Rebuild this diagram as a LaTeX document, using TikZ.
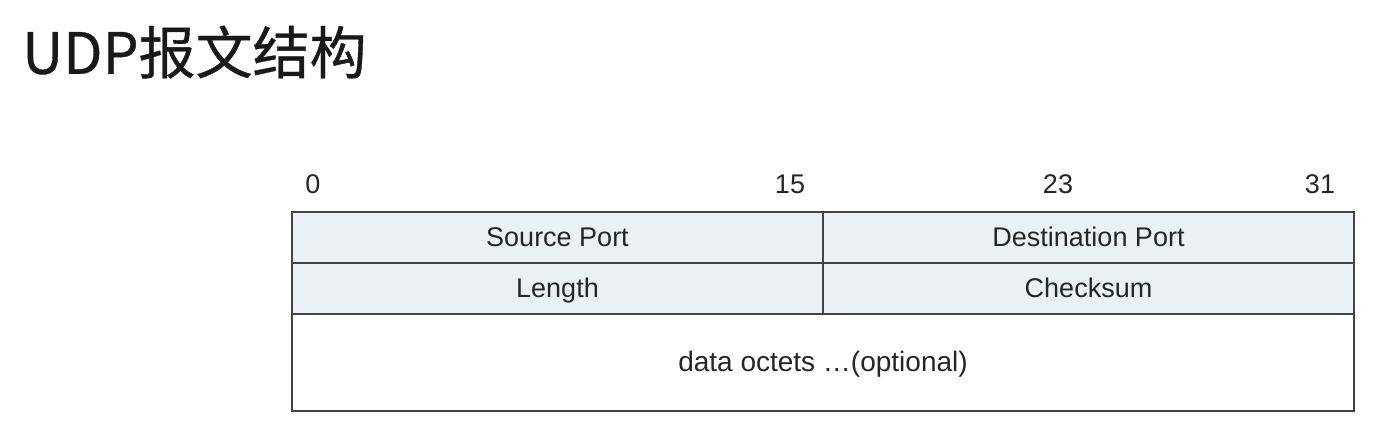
\documentclass[tikz,border=0pt]{standalone}
\usepackage{fontspec}
\setmainfont{Liberation Sans}
\newfontfamily\cjkfont[FakeBold=0.6]{Noto Sans CJK SC}
\usepackage{tikz}
\usetikzlibrary{positioning}
\definecolor{CellFill}{RGB}{234,241,245}
\definecolor{CellLine}{RGB}{68,68,68}

\begin{document}
\begin{tikzpicture}[x=1pt,y=1pt,node distance=0pt,every node/.style={font=\fontsize{27}{30}\selectfont,text=black!85}]
\tikzset{cell/.style={draw=CellLine,line width=1.8pt,fill=CellFill,minimum width=531pt,minimum height=51pt,inner sep=0pt,outer sep=0pt,text height=19pt,text depth=1pt},
  datacell/.style={cell,fill=white,minimum width=1062pt,minimum height=97pt},
  bitnum/.style={inner sep=0pt}}
\useasboundingbox (0,0) rectangle (1377,-439);
\node[anchor=west,inner sep=0pt,font=\cjkfont\fontsize{57}{60}\selectfont,text=black!90] (title) at (22,-52) {UDP报文结构};
\node[cell,anchor=north west] (src) at (292,-212) {Source Port};
\node[cell,right=of src] (dst) {Destination Port};
\node[cell,below=of src] (len) {Length};
\node[cell,right=of len] (chk) {Checksum};
\node[datacell,anchor=north west] (data) at (len.south west) {\fontsize{28}{32}\selectfont data octets \dots(optional)};
\node[bitnum] (b0) at (313,-184) {0};
\node[bitnum] (b15) at (790,-184) {15};
\node[bitnum] (b23) at (1058,-184) {23};
\node[bitnum] (b31) at (1320,-184) {31};
\end{tikzpicture}
\end{document}
